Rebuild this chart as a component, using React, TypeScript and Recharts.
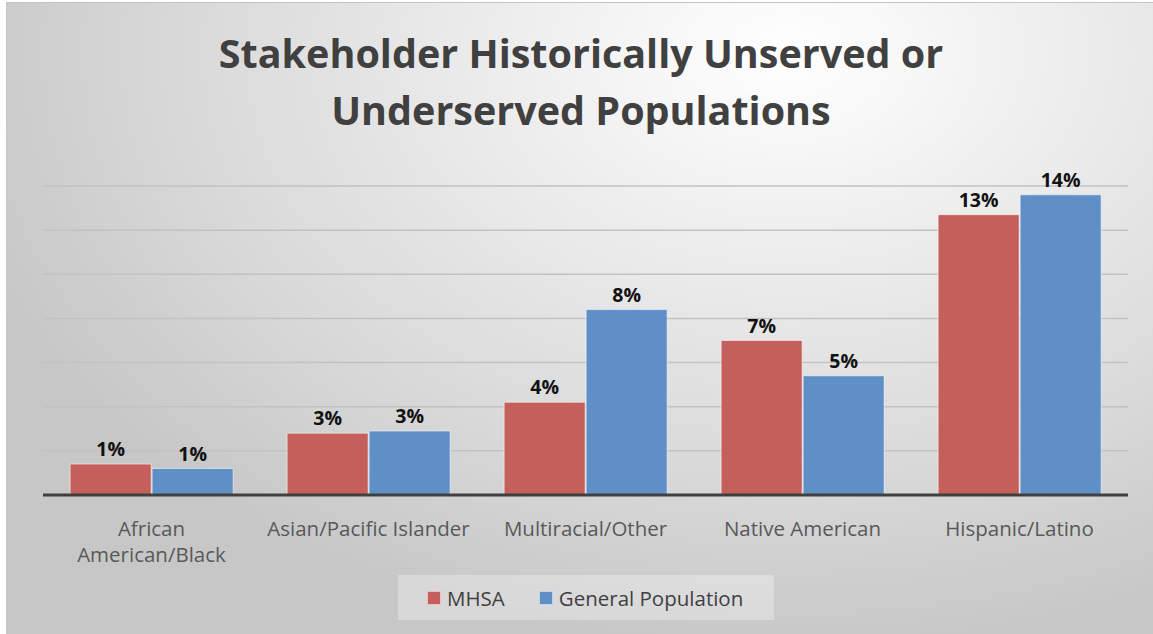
import React from 'react';
import { BarChart, Bar, XAxis, YAxis, CartesianGrid, LabelList } from 'recharts';

const categories = [
  'African American/Black',
  'Asian/Pacific Islander',
  'Multiracial/Other',
  'Native American',
  'Hispanic/Latino',
];
const tickLabels = [
  ['African', 'American/Black'],
  ['Asian/Pacific Islander'],
  ['Multiracial/Other'],
  ['Native American'],
  ['Hispanic/Latino'],
];
const mhsa = [1.4, 2.8, 4.2, 7.0, 12.7];
const generalPopulation = [1.2, 2.9, 8.4, 5.4, 13.6];
const yTicks = [0, 2, 4, 6, 8, 10, 12, 14];
const titleLines = ['Stakeholder Historically Unserved or', 'Underserved Populations'];

const RED = '#C55F5B';
const BLUE = '#5F8FC7';
const FONT = '"Open Sans", "Noto Sans", sans-serif';

const data = categories.map((name, i) => ({
  name,
  mhsa: mhsa[i],
  general: generalPopulation[i],
}));

function CategoryTick(props: any) {
  const { x, y, payload } = props;
  const lines = tickLabels[payload.index] || [payload.value];
  return (
    <g>
      {lines.map((line, i) => (
        <text
          key={i}
          x={x}
          y={y + 41 + i * 26}
          textAnchor="middle"
          fontFamily={FONT}
          fontSize={20.5}
          fill="#595959"
        >
          {line}
        </text>
      ))}
    </g>
  );
}

const pct = (v: any) => `${Math.round(Number(v))}%`;
const labelStyle = { fontFamily: FONT, fontSize: 19.5, fontWeight: 700, fill: '#111' };

export default function App() {
  return (
    <div
      style={{
        position: 'absolute',
        left: 6,
        top: 2,
        width: 1150,
        height: 634,
        boxSizing: 'border-box',
        border: '1px solid #c4c4c4',
        background:
          'radial-gradient(ellipse 75% 95% at 68% 8%, #ffffff 0%, #ececec 35%, #d9d9d9 70%, #c7c7c7 100%)',
        fontFamily: FONT,
        overflow: 'hidden',
      }}
    >
      <div
        style={{
          position: 'absolute',
          top: 22,
          left: 0,
          width: '100%',
          textAlign: 'center',
          fontSize: 39.5,
          lineHeight: '57px',
          fontWeight: 700,
          color: '#404040',
        }}
      >
        {titleLines.map((l, i) => (
          <div key={i}>{l}</div>
        ))}
      </div>

      <BarChart
        width={1150}
        height={632}
        data={data}
        margin={{ top: 183, right: 29, left: 36, bottom: 60 }}
        barCategoryGap="12.5%"
        barGap={1}
      >
        <CartesianGrid vertical={false} stroke="#c2c2c2" strokeWidth={1.5} />
        <YAxis hide domain={[0, 14]} ticks={yTicks} interval={0} />
        <XAxis
          dataKey="name"
          height={80}
          tickLine={false}
          tickSize={0}
          tickMargin={0}
          interval={0}
          axisLine={{ stroke: '#404040', strokeWidth: 3 }}
          tick={<CategoryTick />}
        />
        <Bar dataKey="mhsa" fill={RED} stroke="rgba(255,255,255,0.55)" isAnimationActive={false}>
          <LabelList dataKey="mhsa" position="top" offset={8} formatter={pct} style={labelStyle} />
        </Bar>
        <Bar dataKey="general" fill={BLUE} stroke="rgba(255,255,255,0.55)" isAnimationActive={false}>
          <LabelList dataKey="general" position="top" offset={8} formatter={pct} style={labelStyle} />
        </Bar>
      </BarChart>

      <div
        style={{
          position: 'absolute',
          left: 391,
          top: 572,
          width: 376,
          height: 45,
          background: 'rgba(255,255,255,0.3)',
          display: 'flex',
          alignItems: 'center',
          fontSize: 20.5,
          color: '#404040',
        }}
      >
        <span style={{ width: 14, height: 14, background: RED, border: '1px solid rgba(255,255,255,0.6)', boxSizing: 'border-box', marginLeft: 29, marginRight: 6 }} />
        <span>MHSA</span>
        <span style={{ width: 14, height: 14, background: BLUE, border: '1px solid rgba(255,255,255,0.6)', boxSizing: 'border-box', marginLeft: 34, marginRight: 6 }} />
        <span>General Population</span>
      </div>
    </div>
  );
}
